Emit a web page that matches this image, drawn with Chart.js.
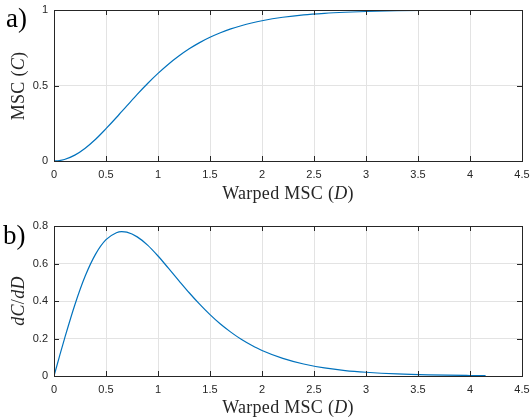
<!DOCTYPE html>
<html>
<head>
<meta charset="utf-8">
<script src="https://cdn.jsdelivr.net/npm/chart.js@4.4.1/dist/chart.umd.min.js"></script>
<style>
  body { margin: 0; background: #fff; }
  #wrap { position: relative; width: 532px; height: 418px; font-family: "Liberation Serif", serif; color: #262626; }
  canvas { position: absolute; left: 0; }
  .lbl { position: absolute; white-space: nowrap; font-size: 18px; letter-spacing: 0.3px; }
  .panel { position: absolute; font-size: 27px; line-height: 27px; color: #000; }
  .ytitle { transform: translate(-50%, -50%) rotate(-90deg); }
  .xtitle { transform: translate(-50%, -50%); }
</style>
</head>
<body>
<div id="wrap">
  <canvas id="top" width="532" height="209" style="top:0"></canvas>
  <canvas id="bot" width="532" height="209" style="top:209px"></canvas>
  <div class="panel" style="left:6px; top:5px">a)</div>
  <div class="panel" style="left:3px; top:222px">b)</div>
  <div class="lbl ytitle" style="left:18px; top:86px">MSC (<i>C</i>)</div>
  <div class="lbl xtitle" style="left:288px; top:193px">Warped MSC (<i>D</i>)</div>
  <div class="lbl ytitle" style="left:18px; top:301px"><i>dC</i>/<i>dD</i></div>
  <div class="lbl xtitle" style="left:288px; top:407px">Warped MSC (<i>D</i>)</div>
</div>
<script>
// warped MSC values
var warped = [0, 0.05, 0.1, 0.2, 0.3, 0.4, 0.5, 0.6, 0.65, 0.7, 0.8, 0.9, 1.0, 1.1, 1.2, 1.3, 1.4, 1.5, 1.6, 1.7, 1.8, 1.9, 2.0, 2.2, 2.4, 2.6, 2.8, 3.0, 3.3, 3.6, 4.0, 4.15];
var msc = [0, 0.0025, 0.0099, 0.039, 0.085, 0.144, 0.214, 0.288, 0.327, 0.365, 0.441, 0.513, 0.580, 0.641, 0.695, 0.743, 0.784, 0.819, 0.849, 0.875, 0.896, 0.914, 0.929, 0.952, 0.968, 0.978, 0.985, 0.990, 0.995, 0.997, 0.9987, 0.999];
var slope = [0, 0.0997, 0.197, 0.379, 0.533, 0.650, 0.727, 0.764, 0.770, 0.767, 0.742, 0.698, 0.640, 0.575, 0.509, 0.444, 0.383, 0.327, 0.277, 0.234, 0.196, 0.164, 0.136, 0.094, 0.064, 0.043, 0.029, 0.020, 0.011, 0.006, 0.0027, 0.002];
var xTicks = { min: 0, max: 4.5, step: 0.5 };
var topTicks = { min: 0, max: 1, step: 0.5 };
var botTicks = { min: 0, max: 0.8, step: 0.2 };

var axisColor = '#262626';
var gridColor = '#e3e3e3';

function fmt(v) { return String(Math.round(v * 10) / 10); }

var boxPlugin = {
  id: 'box',
  afterDraw: function(chart) {
    var ctx = chart.ctx, a = chart.chartArea;
    var xs = chart.scales.x, ys = chart.scales.y;
    ctx.save();
    ctx.strokeStyle = axisColor;
    ctx.lineWidth = 1;
    ctx.beginPath();
    xs.ticks.forEach(function(t) {
      var px = Math.round(xs.getPixelForValue(t.value)) + 0.5;
      ctx.moveTo(px, a.bottom); ctx.lineTo(px, a.bottom - 5);
      ctx.moveTo(px, a.top); ctx.lineTo(px, a.top + 5);
    });
    ys.ticks.forEach(function(t) {
      var py = Math.round(ys.getPixelForValue(t.value)) + 0.5;
      ctx.moveTo(a.left, py); ctx.lineTo(a.left + 5, py);
      ctx.moveTo(a.right, py); ctx.lineTo(a.right - 5, py);
    });
    ctx.stroke();
    ctx.strokeRect(Math.round(a.left) + 0.5, Math.round(a.top) + 0.5, Math.round(a.right - a.left), Math.round(a.bottom - a.top));
    ctx.restore();
  }
};

function makeChart(id, values, yt, padTop, xHeight) {
  var pts = warped.map(function(d, i) { return { x: d, y: values[i] }; });
  return new Chart(document.getElementById(id).getContext('2d'), {
    type: 'line',
    data: {
      datasets: [{
        data: pts,
        borderColor: '#0072BD',
        borderWidth: 1.2,
        pointRadius: 0,
        fill: false,
        cubicInterpolationMode: 'monotone'
      }]
    },
    options: {
      responsive: false,
      animation: false,
      layout: { padding: { top: padTop, right: 10, left: 0, bottom: 0 } },
      plugins: { legend: { display: false }, tooltip: { enabled: false } },
      scales: {
        x: {
          type: 'linear',
          min: xTicks.min, max: xTicks.max,
          afterFit: function(s) { s.height = xHeight; s.paddingLeft = 0; s.paddingRight = 0; },
          grid: { color: gridColor, drawTicks: false },
          border: { display: false },
          ticks: { stepSize: xTicks.step, color: axisColor, padding: 7, maxRotation: 0,
                   callback: fmt, font: { family: 'Liberation Sans', size: 11 } }
        },
        y: {
          min: yt.min, max: yt.max,
          afterFit: function(s) { s.width = 54; s.paddingTop = 0; s.paddingBottom = 0; },
          grid: { color: gridColor, drawTicks: false },
          border: { display: false },
          ticks: { stepSize: yt.step, color: axisColor, padding: 6,
                   callback: fmt, font: { family: 'Liberation Sans', size: 11 } }
        }
      }
    },
    plugins: [boxPlugin]
  });
}

makeChart('top', msc, topTicks, 10, 48);
makeChart('bot', slope, botTicks, 17, 42);
</script>
</body>
</html>
